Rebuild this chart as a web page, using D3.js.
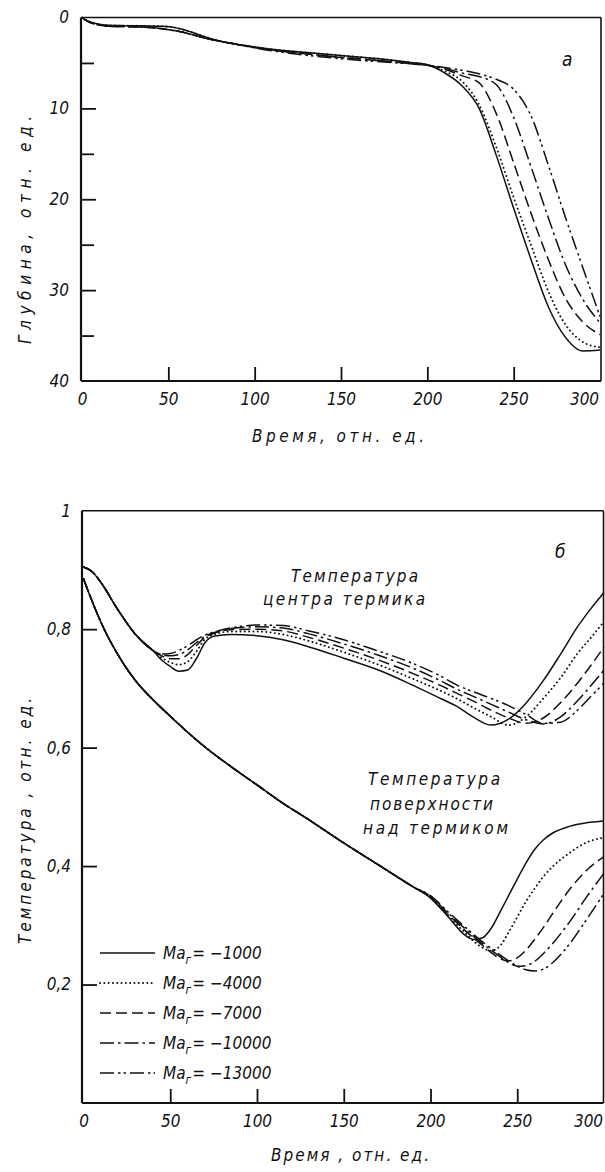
<!DOCTYPE html>
<html>
<head>
<meta charset="utf-8">
<script src="https://cdn.jsdelivr.net/npm/d3@7"></script>
<style>
  html, body { margin: 0; padding: 0; background: #fff; }
  svg text {
    font-family: "DejaVu Sans Condensed", "Liberation Sans Narrow", "DejaVu Sans", sans-serif;
    font-style: italic;
    fill: #111;
  }
</style>
</head>
<body>
<svg id="chart" width="605" height="1172"></svg>
<script>
// ---------- data ----------
const maValues = ["-1000", "-4000", "-7000", "-10000", "-13000"];

// (a) depth vs time
const depthTime = [0, 3, 8, 15, 25, 35, 45, 52, 58, 64, 70, 78, 88, 100, 115, 130, 145, 160, 175, 190,
                   200, 210, 220, 230, 240, 250, 260, 270, 280, 290, 300];
const depthMa1000  = [0, 0.35, 0.65, 0.85, 0.9, 0.92, 0.95, 1.05, 1.3, 1.65, 2.05, 2.5, 2.9, 3.25, 3.6, 3.85, 4.1, 4.35, 4.6, 4.95,
                      5.2, 6.1, 7.5, 10.0, 15.2, 21.0, 26.6, 31.8, 35.2, 36.7, 36.6];
const depthMa4000  = [0, 0.35, 0.65, 0.85, 0.9, 0.92, 0.95, 1.05, 1.3, 1.65, 2.05, 2.5, 2.9, 3.25, 3.6, 3.85, 4.1, 4.35, 4.6, 4.95,
                      5.2, 5.9, 7.0, 9.6, 14.3, 19.8, 25.0, 30.1, 33.8, 35.7, 36.3];
const depthMa7000  = [0, 0.4, 0.75, 0.95, 1.0, 1.05, 1.2, 1.4, 1.6, 1.9, 2.2, 2.55, 2.9, 3.3, 3.7, 4.0, 4.3, 4.55, 4.8, 5.05,
                      5.25, 5.7, 6.4, 7.2, 10.6, 16.0, 21.5, 26.6, 30.9, 33.5, 34.9];
const depthMa10000 = [0, 0.4, 0.75, 0.95, 1.0, 1.05, 1.2, 1.4, 1.6, 1.9, 2.2, 2.55, 2.9, 3.3, 3.7, 4.0, 4.3, 4.55, 4.8, 5.05,
                      5.25, 5.6, 6.1, 6.5, 7.4, 11.0, 16.4, 22.0, 27.2, 31.0, 33.6];
const depthMa13000 = [0, 0.4, 0.75, 0.95, 1.0, 1.05, 1.2, 1.4, 1.6, 1.9, 2.2, 2.55, 2.9, 3.35, 3.8, 4.15, 4.45, 4.7, 4.9, 5.1,
                      5.25, 5.5, 5.8, 6.2, 6.8, 7.9, 10.8, 16.2, 22.0, 27.5, 32.9];

// (б) temperature of the thermal centre
const centerTime = [0, 5, 10, 20, 30, 40, 45, 50, 55, 60, 65, 70, 75, 85, 100, 115, 130, 150, 170, 190,
                    205, 215, 225, 235, 245, 255, 265, 275, 285, 292, 300];
const centerMa1000  = [0.905, 0.897, 0.879, 0.832, 0.791, 0.764, 0.748, 0.737, 0.729, 0.731, 0.750, 0.777, 0.788, 0.791, 0.789, 0.782,
                       0.770, 0.751, 0.731, 0.705, 0.684, 0.670, 0.651, 0.638, 0.648, 0.675, 0.713, 0.758, 0.805, 0.833, 0.862];
const centerMa4000  = [0.905, 0.897, 0.879, 0.832, 0.791, 0.764, 0.752, 0.744, 0.740, 0.745, 0.762, 0.783, 0.791, 0.796, 0.796, 0.791,
                       0.780, 0.761, 0.740, 0.716, 0.697, 0.683, 0.667, 0.652, 0.638, 0.652, 0.683, 0.718, 0.760, 0.784, 0.813];
const centerMa7000  = [0.905, 0.897, 0.879, 0.832, 0.791, 0.764, 0.755, 0.750, 0.750, 0.757, 0.772, 0.786, 0.793, 0.799, 0.800, 0.797,
                       0.786, 0.768, 0.748, 0.725, 0.706, 0.692, 0.678, 0.663, 0.650, 0.641, 0.650, 0.676, 0.710, 0.737, 0.770];
const centerMa10000 = [0.905, 0.897, 0.879, 0.832, 0.791, 0.764, 0.757, 0.755, 0.757, 0.765, 0.777, 0.788, 0.794, 0.801, 0.804, 0.802,
                       0.792, 0.775, 0.756, 0.734, 0.714, 0.699, 0.686, 0.673, 0.660, 0.647, 0.640, 0.652, 0.680, 0.703, 0.731];
const centerMa13000 = [0.905, 0.897, 0.879, 0.832, 0.791, 0.764, 0.758, 0.759, 0.764, 0.772, 0.782, 0.790, 0.795, 0.802, 0.807, 0.806,
                       0.797, 0.782, 0.763, 0.742, 0.722, 0.706, 0.694, 0.683, 0.671, 0.656, 0.641, 0.643, 0.664, 0.685, 0.709];

// (б) temperature of the surface above the thermal
const surfTime = [0, 5, 10, 20, 30, 40, 50, 60, 70, 85, 100, 115, 130, 150, 170, 190,
                  200, 210, 220, 225, 230, 235, 240, 245, 250, 255, 260, 265, 270, 280, 290, 300];
const surfMa1000  = [0.885, 0.847, 0.812, 0.756, 0.713, 0.681, 0.653, 0.626, 0.601, 0.568, 0.537, 0.506, 0.478, 0.439, 0.402, 0.365,
                     0.346, 0.315, 0.283, 0.276, 0.279, 0.295, 0.322, 0.350, 0.378, 0.405, 0.428, 0.444, 0.455, 0.467, 0.473, 0.476];
const surfMa4000  = [0.885, 0.847, 0.812, 0.756, 0.713, 0.681, 0.653, 0.626, 0.601, 0.568, 0.537, 0.506, 0.478, 0.439, 0.402, 0.365,
                     0.347, 0.317, 0.287, 0.273, 0.262, 0.257, 0.265, 0.288, 0.314, 0.340, 0.362, 0.382, 0.398, 0.422, 0.440, 0.448];
const surfMa7000  = [0.885, 0.847, 0.812, 0.756, 0.713, 0.681, 0.653, 0.626, 0.601, 0.568, 0.537, 0.506, 0.478, 0.439, 0.402, 0.365,
                     0.348, 0.319, 0.291, 0.278, 0.266, 0.254, 0.244, 0.240, 0.245, 0.258, 0.276, 0.296, 0.318, 0.360, 0.393, 0.416];
const surfMa10000 = [0.885, 0.847, 0.812, 0.756, 0.713, 0.681, 0.653, 0.626, 0.601, 0.568, 0.537, 0.506, 0.478, 0.439, 0.402, 0.365,
                     0.349, 0.321, 0.294, 0.281, 0.269, 0.258, 0.247, 0.237, 0.231, 0.232, 0.239, 0.252, 0.268, 0.305, 0.348, 0.388];
const surfMa13000 = [0.885, 0.847, 0.812, 0.756, 0.713, 0.681, 0.653, 0.626, 0.601, 0.568, 0.537, 0.506, 0.478, 0.439, 0.402, 0.365,
                     0.350, 0.323, 0.297, 0.284, 0.272, 0.261, 0.250, 0.240, 0.231, 0.225, 0.223, 0.226, 0.236, 0.268, 0.310, 0.354];

const timeTicks = [0, 50, 100, 150, 200, 250, 300];
const depthTicks = [0, 10, 20, 30, 40];
const depthMinorTicks = [5, 15, 25, 35];
const tempTicks = [0.2, 0.4, 0.6, 0.8, 1];

// ---------- styles ----------
const dashes = [null, "0.1,4.2", "11,5", "14,4,2.5,4", "14,4,2.5,3,2.5,4"];

const svg = d3.select("#chart");

function lineStyle(sel, i) {
  sel.attr("fill", "none")
     .attr("stroke", "#111")
     .attr("stroke-width", i === 1 ? 1.9 : 1.5)
     .attr("stroke-linecap", i === 1 ? "round" : "butt")
     .attr("stroke-dasharray", dashes[i]);
}

function frame(g, x0, x1, y0, y1) {
  g.append("line").attr("x1", x0).attr("x2", x0).attr("y1", y0).attr("y2", y1)
    .attr("stroke", "#111").attr("stroke-width", 2.2);
  g.append("line").attr("x1", x0).attr("x2", x1).attr("y1", y1).attr("y2", y1)
    .attr("stroke", "#111").attr("stroke-width", 2.2);
  g.append("line").attr("x1", x0).attr("x2", x1).attr("y1", y0).attr("y2", y0)
    .attr("stroke", "#111").attr("stroke-width", 1.6);
  g.append("line").attr("x1", x1).attr("x2", x1).attr("y1", y0).attr("y2", y1)
    .attr("stroke", "#111").attr("stroke-width", 1.6);
}

function cleanAxis(g) {
  g.select(".domain").remove();
  g.attr("font-family", null);
  g.selectAll(".tick line").attr("stroke", "#111").attr("stroke-width", 1.8);
  g.selectAll(".tick text").attr("font-size", 17).attr("fill", "#111")
    .style("font-style", "italic");
  // the last time label is pulled inside the page, as in the original
  g.selectAll(".tick text").filter(d => d === 300).attr("dx", -16);
}

// ================= (a) depth =================
const xA = d3.scaleLinear().domain([0, 300]).range([82, 600]);
const yA = d3.scaleLinear().domain([0, 40]).range([17.5, 381]);
const gA = svg.append("g");

frame(gA, 81, 601, yA(0), yA(40));

gA.append("g").attr("transform", `translate(81,0)`)
  .call(d3.axisRight(yA).tickValues(depthTicks.slice(1, -1)).tickSize(15).tickFormat(""))
  .call(cleanAxis);
gA.append("g").attr("transform", `translate(81,0)`)
  .call(d3.axisRight(yA).tickValues(depthMinorTicks).tickSize(13).tickFormat(""))
  .call(cleanAxis);
gA.append("g").attr("transform", `translate(81,0)`)
  .call(d3.axisLeft(yA).tickValues(depthTicks).tickSize(0).tickPadding(12))
  .call(cleanAxis);
gA.append("g").attr("transform", `translate(0,${yA(40)})`)
  .call(d3.axisTop(xA).tickValues(timeTicks.slice(1, -1)).tickSize(14).tickFormat(""))
  .call(cleanAxis);
gA.append("g").attr("transform", `translate(0,${yA(40)})`)
  .call(d3.axisBottom(xA).tickValues(timeTicks).tickSize(0).tickPadding(12))
  .call(cleanAxis);

const depthSeries = [depthMa1000, depthMa4000, depthMa7000, depthMa10000, depthMa13000];
const lineA = d3.line().x(d => xA(d[0])).y(d => yA(d[1])).curve(d3.curveMonotoneX);
depthSeries.forEach((vals, i) => {
  gA.append("path")
    .datum(depthTime.map((t, k) => [t, vals[k]]))
    .attr("d", lineA)
    .call(lineStyle, i);
});

gA.append("text").attr("x", 562).attr("y", 66).attr("font-size", 19).text("а");
gA.append("text").attr("transform", "translate(31,230) rotate(-90)")
  .attr("text-anchor", "middle").attr("font-size", 17)
  .attr("textLength", 228).attr("lengthAdjust", "spacing")
  .text("Глубина, отн. ед.");
gA.append("text").attr("x", 338).attr("y", 442)
  .attr("text-anchor", "middle").attr("font-size", 17)
  .attr("textLength", 172).attr("lengthAdjust", "spacing")
  .text("Время, отн. ед.");

// ================= (б) temperature =================
const xB = d3.scaleLinear().domain([0, 300]).range([83.5, 604]);
const yB = d3.scaleLinear().domain([0, 1]).range([1103, 510.7]);
const gB = svg.append("g");

frame(gB, 82, 603.5, yB(1), yB(0));

gB.append("g").attr("transform", `translate(82,0)`)
  .call(d3.axisRight(yB).tickValues(tempTicks.slice(0, -1)).tickSize(15).tickFormat(""))
  .call(cleanAxis);
gB.append("g").attr("transform", `translate(82,0)`)
  .call(d3.axisLeft(yB).tickValues(tempTicks).tickSize(0).tickPadding(11)
    .tickFormat(d => d3.format(".1~f")(d).replace(".", ",")))
  .call(cleanAxis);
gB.append("g").attr("transform", `translate(0,${yB(0)})`)
  .call(d3.axisTop(xB).tickValues(timeTicks.slice(1, -1)).tickSize(14).tickFormat(""))
  .call(cleanAxis);
gB.append("g").attr("transform", `translate(0,${yB(0)})`)
  .call(d3.axisBottom(xB).tickValues(timeTicks).tickSize(0).tickPadding(12))
  .call(cleanAxis);

const lineB = d3.line().x(d => xB(d[0])).y(d => yB(d[1])).curve(d3.curveMonotoneX);
const centerSeries = [centerMa1000, centerMa4000, centerMa7000, centerMa10000, centerMa13000];
const surfSeries = [surfMa1000, surfMa4000, surfMa7000, surfMa10000, surfMa13000];
centerSeries.forEach((vals, i) => {
  gB.append("path")
    .datum(centerTime.map((t, k) => [t, vals[k]]))
    .attr("d", lineB)
    .call(lineStyle, i);
});
surfSeries.forEach((vals, i) => {
  gB.append("path")
    .datum(surfTime.map((t, k) => [t, vals[k]]))
    .attr("d", lineB)
    .call(lineStyle, i);
});

// annotations
gB.append("text").attr("x", 555).attr("y", 558).attr("font-size", 19).text("б");
gB.append("text").attr("x", 291).attr("y", 582).attr("font-size", 17)
  .attr("textLength", 127).attr("lengthAdjust", "spacing").text("Температура");
gB.append("text").attr("x", 263).attr("y", 605).attr("font-size", 17)
  .attr("textLength", 162).attr("lengthAdjust", "spacing").text("центра термика");
gB.append("text").attr("x", 368).attr("y", 785).attr("font-size", 17)
  .attr("textLength", 132).attr("lengthAdjust", "spacing").text("Температура");
gB.append("text").attr("x", 370).attr("y", 810).attr("font-size", 17)
  .attr("textLength", 123).attr("lengthAdjust", "spacing").text("поверхности");
gB.append("text").attr("x", 363).attr("y", 834).attr("font-size", 17)
  .attr("textLength", 145).attr("lengthAdjust", "spacing").text("над термиком");

gB.append("text").attr("transform", "translate(31,821) rotate(-90)")
  .attr("text-anchor", "middle").attr("font-size", 17)
  .attr("textLength", 246).attr("lengthAdjust", "spacing")
  .text("Температура , отн. ед.");
gB.append("text").attr("x", 350).attr("y", 1161)
  .attr("text-anchor", "middle").attr("font-size", 17)
  .attr("textLength", 158).attr("lengthAdjust", "spacing")
  .text("Время , отн. ед.");

// legend
const legend = gB.append("g").attr("transform", "translate(100,953)");
maValues.forEach((m, i) => {
  const row = legend.append("g").attr("transform", `translate(0,${i * 30})`);
  row.append("line").attr("x1", 0).attr("x2", 55).attr("y1", 0).attr("y2", 0)
    .call(lineStyle, i);
  const t = row.append("text").attr("x", 63).attr("y", 6).attr("font-size", 17);
  t.append("tspan").text("Ma");
  t.append("tspan").attr("font-size", 12).attr("dy", 5).text("г");
  t.append("tspan").attr("dy", -5).attr("dx", 1).text("= " + m.replace("-", "−"));
});
</script>
</body>
</html>
